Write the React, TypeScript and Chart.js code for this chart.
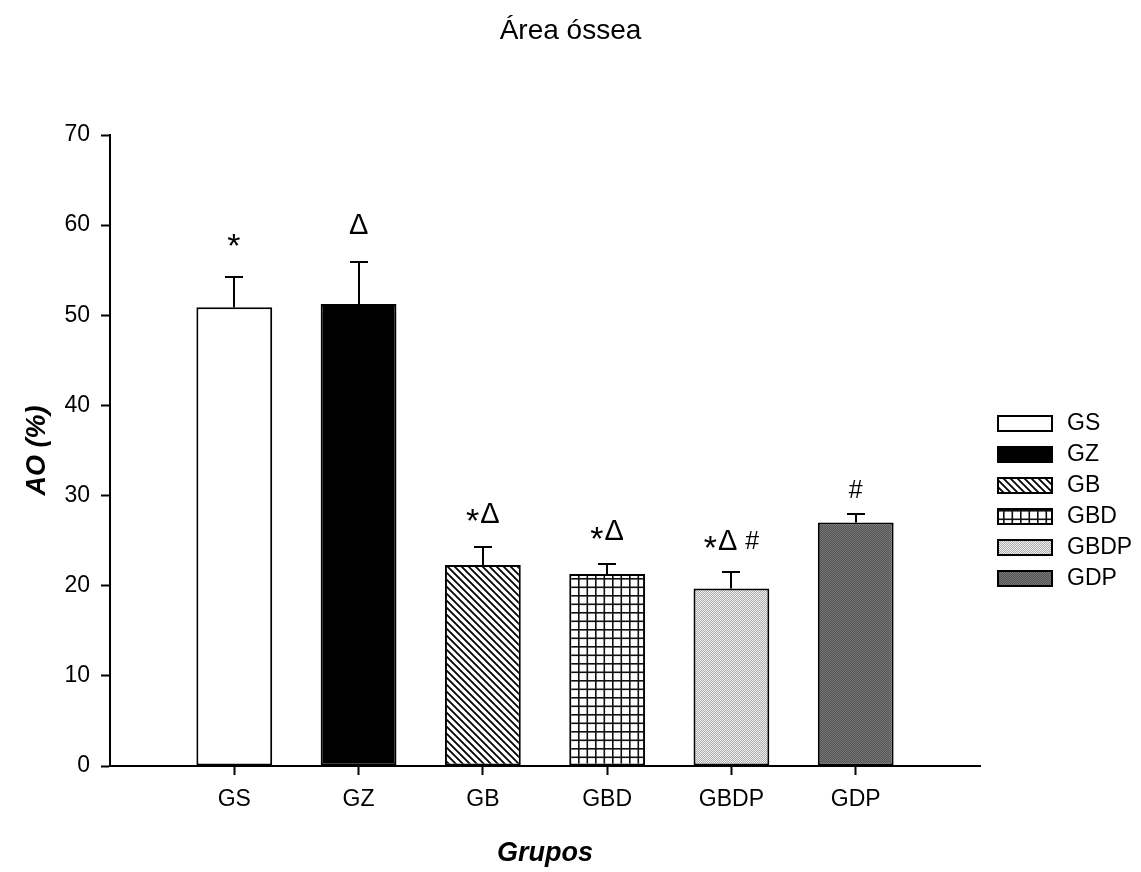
import React, { useEffect, useRef } from 'react';
import { Chart, registerables } from 'chart.js';

Chart.register(...registerables);

// ---- data ----
const categories = ['GS', 'GZ', 'GB', 'GBD', 'GBDP', 'GDP'];
const meanValues = [50.9, 51.25, 22.3, 21.3, 19.7, 27.0];
const errorValues = [3.3, 4.65, 2.0, 1.1, 1.8, 1.0];
const significanceMarks = ['*', 'Δ', '*Δ', '*Δ', '*Δ #', '#'];
const markLevels = [58.7, 60.2, 28.1, 26.2, 25.1, 30.7];
const yMin = 0;
const yMax = 70;
const yStep = 10;
const chartTitle = 'Área óssea';
const xTitle = 'Grupos';
const yTitle = 'AO (%)';

const FONT = "'Liberation Sans', Arial, Helvetica, sans-serif";

function tile(w: number, h: number, draw: (g: CanvasRenderingContext2D) => void): CanvasPattern | string {
  const c = document.createElement('canvas');
  c.width = w;
  c.height = h;
  const g = c.getContext('2d')!;
  draw(g);
  return g.createPattern(c, 'repeat') || '#888';
}

function makeFills(): (CanvasPattern | string)[] {
  const white = '#ffffff';
  const black = '#000000';
  const diag = tile(7, 7, (g) => {
    g.fillStyle = '#fff';
    g.fillRect(0, 0, 7, 7);
    g.strokeStyle = '#000';
    g.lineWidth = 1.8;
    g.beginPath();
    g.moveTo(-1, -1); g.lineTo(8, 8);
    g.moveTo(-1, 6); g.lineTo(1, 8);
    g.moveTo(6, -1); g.lineTo(8, 1);
    g.stroke();
  });
  const grid = tile(17, 17, (g) => {
    g.fillStyle = '#fff';
    g.fillRect(0, 0, 17, 17);
    g.fillStyle = '#111';
    g.fillRect(0, 0, 1.6, 17);
    g.fillRect(8.5, 0, 1.6, 17);
    g.fillRect(0, 0, 17, 1.6);
    g.fillRect(0, 8.5, 17, 1.6);
  });
  const light = tile(2, 2, (g) => {
    g.fillStyle = '#f4f4f4';
    g.fillRect(0, 0, 1, 1);
    g.fillRect(1, 1, 1, 1);
    g.fillStyle = '#a8a8a8';
    g.fillRect(1, 0, 1, 1);
    g.fillRect(0, 1, 1, 1);
  });
  const dark = tile(2, 2, (g) => {
    g.fillStyle = '#767676';
    g.fillRect(0, 0, 1, 1);
    g.fillRect(1, 1, 1, 1);
    g.fillStyle = '#555555';
    g.fillRect(1, 0, 1, 1);
    g.fillRect(0, 1, 1, 1);
  });
  return [white, black, diag, grid, light, dark];
}

export default function App() {
  const ref = useRef<HTMLCanvasElement | null>(null);

  useEffect(() => {
    const canvas = ref.current;
    if (!canvas) return;
    const fills = makeFills();
    const labels = ['', ...categories, ''];
    const data = [null, ...meanValues, null];
    const bg = ['rgba(0,0,0,0)', ...fills, 'rgba(0,0,0,0)'];
    const bw = [0, ...categories.map(() => 2), 0];

    const errorBarsPlugin = {
      id: 'errorBars',
      afterDatasetsDraw(chart: any) {
        const { ctx } = chart;
        const xs = chart.scales.x;
        const ys = chart.scales.y;
        ctx.save();
        ctx.strokeStyle = '#000';
        ctx.lineWidth = 2;
        meanValues.forEach((m, i) => {
          const px = Math.round(xs.getPixelForValue(i + 1));
          const top = Math.round(ys.getPixelForValue(m + errorValues[i]));
          const base = ys.getPixelForValue(m);
          ctx.beginPath();
          ctx.moveTo(px, base);
          ctx.lineTo(px, top);
          ctx.moveTo(px - 9, top);
          ctx.lineTo(px + 9, top);
          ctx.stroke();
        });
        ctx.restore();
      },
    };

    const marksPlugin = {
      id: 'marks',
      afterDatasetsDraw(chart: any) {
        const { ctx } = chart;
        const xs = chart.scales.x;
        const ys = chart.scales.y;
        ctx.save();
        ctx.fillStyle = '#000';
        ctx.textBaseline = 'alphabetic';
        ctx.textAlign = 'left';
        const baseSize = 29;
        significanceMarks.forEach((txt, i) => {
          const cx = xs.getPixelForValue(i + 1);
          const cy = ys.getPixelForValue(markLevels[i]);
          const chars = Array.from(txt);
          const sizes = chars.map((c) => (c === '#' ? 25 : c === '*' ? 34 : baseSize));
          const widths = chars.map((c, k) => {
            ctx.font = `${sizes[k]}px ${FONT}`;
            return ctx.measureText(c).width + (c === '*' ? 1 : 0);
          });
          const total = widths.reduce((a, b) => a + b, 0);
          let x = cx - total / 2;
          chars.forEach((c, k) => {
            ctx.font = `${sizes[k]}px ${FONT}`;
            let baseline = cy + (0.716 * sizes[k]) / 2;
            if (c === '*') baseline = cy + 0.58 * sizes[k];
            if (c !== ' ') ctx.fillText(c, x, baseline);
            x += widths[k];
          });
        });
        ctx.restore();
      },
    };

    const legendPlugin = {
      id: 'customLegend',
      afterDraw(chart: any) {
        const { ctx, chartArea } = chart;
        const left = chartArea.right + 17;
        const top0 = chartArea.top + 280;
        ctx.save();
        categories.forEach((name, i) => {
          const y = top0 + i * 31;
          ctx.fillStyle = fills[i] as any;
          ctx.fillRect(left, y, 56, 17);
          ctx.strokeStyle = '#000';
          ctx.lineWidth = 2;
          ctx.strokeRect(left + 1, y + 1, 54, 15);
          ctx.fillStyle = '#000';
          ctx.font = `23px ${FONT}`;
          ctx.textAlign = 'left';
          ctx.textBaseline = 'middle';
          ctx.fillText(name, left + 70, y + 9);
        });
        ctx.restore();
      },
    };

    const chart = new Chart(canvas, {
      type: 'bar',
      data: {
        labels,
        datasets: [
          {
            data: data as any,
            backgroundColor: bg as any,
            borderColor: '#000',
            borderWidth: bw,
            borderSkipped: false,
            categoryPercentage: 1,
            barPercentage: 0.61,
          },
        ],
      },
      options: {
        responsive: false,
        animation: false,
        devicePixelRatio: 1,
        layout: { padding: 0 },
        plugins: {
          legend: { display: false },
          tooltip: { enabled: false },
          title: {
            display: true,
            text: chartTitle,
            color: '#000',
            font: { family: FONT, size: 28, weight: 'normal' },
            padding: { top: 14, bottom: 87.4 },
          },
        },
        scales: {
          x: {
            type: 'category',
            offset: false,
            grid: {
              offset: false,
              drawOnChartArea: false,
              drawTicks: true,
              tickLength: 9,
              tickWidth: 2,
              tickColor: (c: any) =>
                c.index === 0 || c.index === labels.length - 1 ? 'rgba(0,0,0,0)' : '#000',
            },
            border: { display: true, color: '#000', width: 2 },
            ticks: {
              color: '#000',
              font: { family: FONT, size: 23 },
              padding: 11,
              maxRotation: 0,
              autoSkip: false,
            },
            title: {
              display: true,
              text: xTitle,
              color: '#000',
              font: { family: FONT, size: 27, weight: 'bold', style: 'italic' },
              padding: { top: 0, bottom: 2 },
            },
            afterFit: (s: any) => {
              s.height = 106;
            },
          } as any,
          y: {
            type: 'linear',
            min: yMin,
            max: yMax,
            ticks: {
              stepSize: yStep,
              color: '#000',
              font: { family: FONT, size: 23 },
              padding: 11,
            },
            grid: {
              drawOnChartArea: false,
              drawTicks: true,
              tickLength: 9,
              tickWidth: 2,
              tickColor: '#000',
            },
            border: { display: true, color: '#000', width: 2 },
            title: {
              display: true,
              text: yTitle,
              color: '#000',
              font: { family: FONT, size: 27, weight: 'bold', style: 'italic' },
              padding: { top: 21, bottom: 0 },
            },
            afterFit: (s: any) => {
              s.width = 110;
            },
          } as any,
          yRight: {
            type: 'linear',
            position: 'right',
            display: true,
            grid: { display: false },
            ticks: { display: false },
            border: { display: false },
            afterFit: (s: any) => {
              s.width = 161;
            },
          } as any,
        },
      },
      plugins: [errorBarsPlugin, marksPlugin, legendPlugin],
    });

    return () => {
      chart.destroy();
    };
  }, []);

  return (
    <div style={{ position: 'absolute', left: 0, top: 0, width: 1141, height: 872, background: '#fff' }}>
      <canvas ref={ref} width={1141} height={872} style={{ display: 'block' }} />
    </div>
  );
}
